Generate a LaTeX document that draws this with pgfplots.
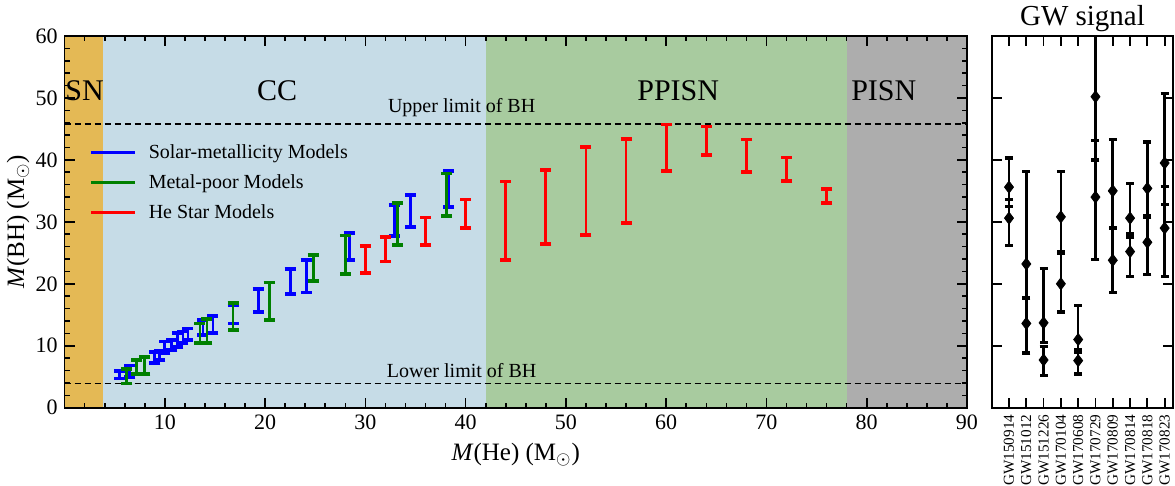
\documentclass[border=0pt]{standalone}
\usepackage{fontspec}
\setmainfont{Liberation Serif}
\usepackage{pgfplots}
\usepackage{pgfplotstable}
\pgfplotsset{compat=1.18}

\definecolor{snC}{HTML}{E4B955}
\definecolor{ccC}{HTML}{C6DCE7}
\definecolor{ppC}{HTML}{A8CB9F}
\definecolor{piC}{HTML}{ADADAD}
\definecolor{grn}{RGB}{0,128,0}

% solar-metallicity models: x, lower, upper
\pgfplotstableread{
x lo hi
5.5 4.7 5.9
6.5 4.9 6.8
9.0 7.2 9.0
9.5 7.7 9.2
10.0 8.8 10.7
10.7 9.3 10.9
11.3 9.8 12.0
11.8 10.4 12.3
12.3 10.9 12.8
13.8 11.7 14.2
14.8 12.0 14.8
16.8 13.6 16.5
19.3 15.5 19.2
22.5 18.4 22.4
24.1 18.6 23.9
28.4 23.8 28.2
32.9 27.7 32.7
34.5 29.2 34.3
38.3 32.4 38.2
}\solar

% metal-poor models
\pgfplotstableread{
x lo hi
6.2 3.9 6.3
7.2 5.4 7.7
8.0 5.4 8.2
13.5 10.5 13.6
14.2 10.5 14.3
16.8 12.5 16.9
20.4 14.2 20.2
24.8 20.5 24.6
28.0 21.6 27.8
33.2 26.3 33.0
38.1 30.9 37.8
}\poor

% He star models
\pgfplotstableread{
x lo hi
30 21.7 26.1
32 23.6 27.6
36 26.3 30.7
40 29.0 33.6
44 23.8 36.5
48 26.4 38.4
52 27.9 42.1
56 29.8 43.4
60 38.2 45.7
64 40.8 45.4
68 38.1 43.3
72 36.6 40.4
76 33.0 35.3
}\hestar

% GW events: m1 (+,-), m2 (+,-)
\pgfplotstableread{
x m1 p1 n1 m2 p2 n2
1 35.6 4.7 3.1 30.6 3.0 4.4
2 23.2 14.9 5.5 13.6 4.1 4.8
3 13.7 8.8 3.2 7.7 2.2 2.5
4 30.8 7.3 5.6 20.0 4.9 4.6
5 11.0 5.5 1.7 7.6 1.4 2.2
6 50.2 16.2 10.2 34.0 9.1 10.1
7 35.0 8.3 5.9 23.8 5.1 5.2
8 30.6 5.6 3.0 25.2 2.8 4.0
9 35.4 7.5 4.7 26.7 4.3 5.2
10 39.5 11.2 6.7 29.0 6.7 7.8
}\gw

\pgfplotsset{rangebar/.style={draw=none,mark=none,forget plot,error bars/.cd,y dir=both,y explicit,
 error bar style={line width=1.4pt,draw=#1},
 error mark options={rotate=90,mark size=2.75pt,line width=1.9pt,draw=#1}}}

\begin{document}
\begin{tikzpicture}
\path[use as bounding box] (0,0) rectangle (587.5pt,243pt);

\begin{axis}[scale only axis,width=451.2pt,height=185.85pt,
 at={(32.3pt,39.15pt)},anchor=south west,
 xmin=0,xmax=90,ymin=0,ymax=60,axis on top,
 xtick={0,10,...,90},xticklabels={,10,20,30,40,50,60,70,80,90},
 ytick={0,10,...,60},
 minor xtick={0,2,...,90},minor ytick={0,2,...,60},
 major tick length=5pt,minor tick length=2.5pt,
 every tick/.style={black,line width=0.8pt},
 axis line style={line width=0.9pt},
 tick label style={font=\fontsize{11}{13}\selectfont},
 /pgf/number format/assume math mode=true,
 xlabel={\textit{M}(He) (M$_\odot$)},ylabel={\textit{M}(BH) (M$_\odot$)},
 label style={font=\fontsize{12.5}{15}\selectfont},
 ylabel style={at={(axis description cs:-0.0516,0.5)},anchor=center},
 legend image code/.code={\draw[#1] (0pt,0pt) -- (22pt,0pt);},
 legend style={draw=none,fill=none,inner sep=0pt,at={(rel axis cs:0.027,0.722)},anchor=north west,
  font=\fontsize{10}{12}\selectfont,row sep=2.2pt,nodes={inner sep=2.2pt}},
 legend cell align=left]

\addplot[fill=snC,draw=none,forget plot] coordinates {(0,60) (3.8,60)} \closedcycle;
\addplot[fill=ccC,draw=none,forget plot] coordinates {(3.8,60) (42,60)} \closedcycle;
\addplot[fill=ppC,draw=none,forget plot] coordinates {(42,60) (78,60)} \closedcycle;
\addplot[fill=piC,draw=none,forget plot] coordinates {(78,60) (90,60)} \closedcycle;

\addplot[black,line width=0.6pt,dash pattern=on 3pt off 2pt,forget plot] coordinates {(0,45.8) (90,45.8)};
\addplot[black,line width=0.6pt,dash pattern=on 3pt off 2pt,forget plot] coordinates {(0,3.9) (90,3.9)};

\addplot[rangebar=blue]
 table[x=x,y expr=(\thisrow{hi}+\thisrow{lo})/2,y error expr=(\thisrow{hi}-\thisrow{lo})/2] {\solar};
\addplot[rangebar=grn]
 table[x=x,y expr=(\thisrow{hi}+\thisrow{lo})/2,y error expr=(\thisrow{hi}-\thisrow{lo})/2] {\poor};
\addplot[rangebar=red]
 table[x=x,y expr=(\thisrow{hi}+\thisrow{lo})/2,y error expr=(\thisrow{hi}-\thisrow{lo})/2] {\hestar};

\addlegendimage{blue,line width=1.5pt}
\addlegendentry{\hspace{4pt}Solar-metallicity Models}
\addlegendimage{grn,line width=1.5pt}
\addlegendentry{\hspace{4pt}Metal-poor Models}
\addlegendimage{red,line width=1.5pt}
\addlegendentry{\hspace{4pt}He Star Models}

\node[font=\fontsize{15}{18}\selectfont] at (axis cs:2,51.1) {SN};
\node[font=\fontsize{15}{18}\selectfont] at (axis cs:21.2,51.1) {CC};
\node[font=\fontsize{15}{18}\selectfont] at (axis cs:61.2,51.1) {PPISN};
\node[font=\fontsize{15}{18}\selectfont] at (axis cs:81.7,51.1) {PISN};
\node[font=\fontsize{10}{12}\selectfont,anchor=base] at (axis cs:39.6,47.6) {Upper limit of BH};
\node[font=\fontsize{10}{12}\selectfont,anchor=base] at (axis cs:39.6,4.8) {Lower limit of BH};
\end{axis}

\begin{axis}[name=gw,scale only axis,width=90.8pt,height=185.85pt,
 at={(495.85pt,39.15pt)},anchor=south west,
 xmin=0,xmax=10.5,ymin=0,ymax=60,
 xtick={1,...,10},ytick={10,20,...,50},yticklabels={},
 xticklabels={GW150914,GW151012,GW151226,GW170104,GW170608,GW170729,GW170809,GW170814,GW170818,GW170823},
 xticklabel style={rotate=90,anchor=east,font=\fontsize{7.6}{9}\selectfont,inner sep=3.3pt},
 major tick length=5pt,
 every tick/.style={black,line width=0.9pt},
 axis line style={line width=0.9pt}]
\addplot[black,only marks,mark=diamond*,mark size=3pt,error bars/.cd,y dir=both,y explicit,
 error bar style={line width=1.3pt},error mark options={rotate=90,mark size=2pt,line width=1.8pt}]
 table[x=x,y=m1,y error plus=p1,y error minus=n1] {\gw};
\addplot[black,only marks,mark=diamond*,mark size=3pt,error bars/.cd,y dir=both,y explicit,
 error bar style={line width=1.3pt},error mark options={rotate=90,mark size=2pt,line width=1.8pt}]
 table[x=x,y=m2,y error plus=p2,y error minus=n2] {\gw};
\end{axis}
\node[anchor=base,font=\fontsize{14.5}{17}\selectfont,yshift=5.5pt] at (gw.north) {GW signal};
\end{tikzpicture}
\end{document}
